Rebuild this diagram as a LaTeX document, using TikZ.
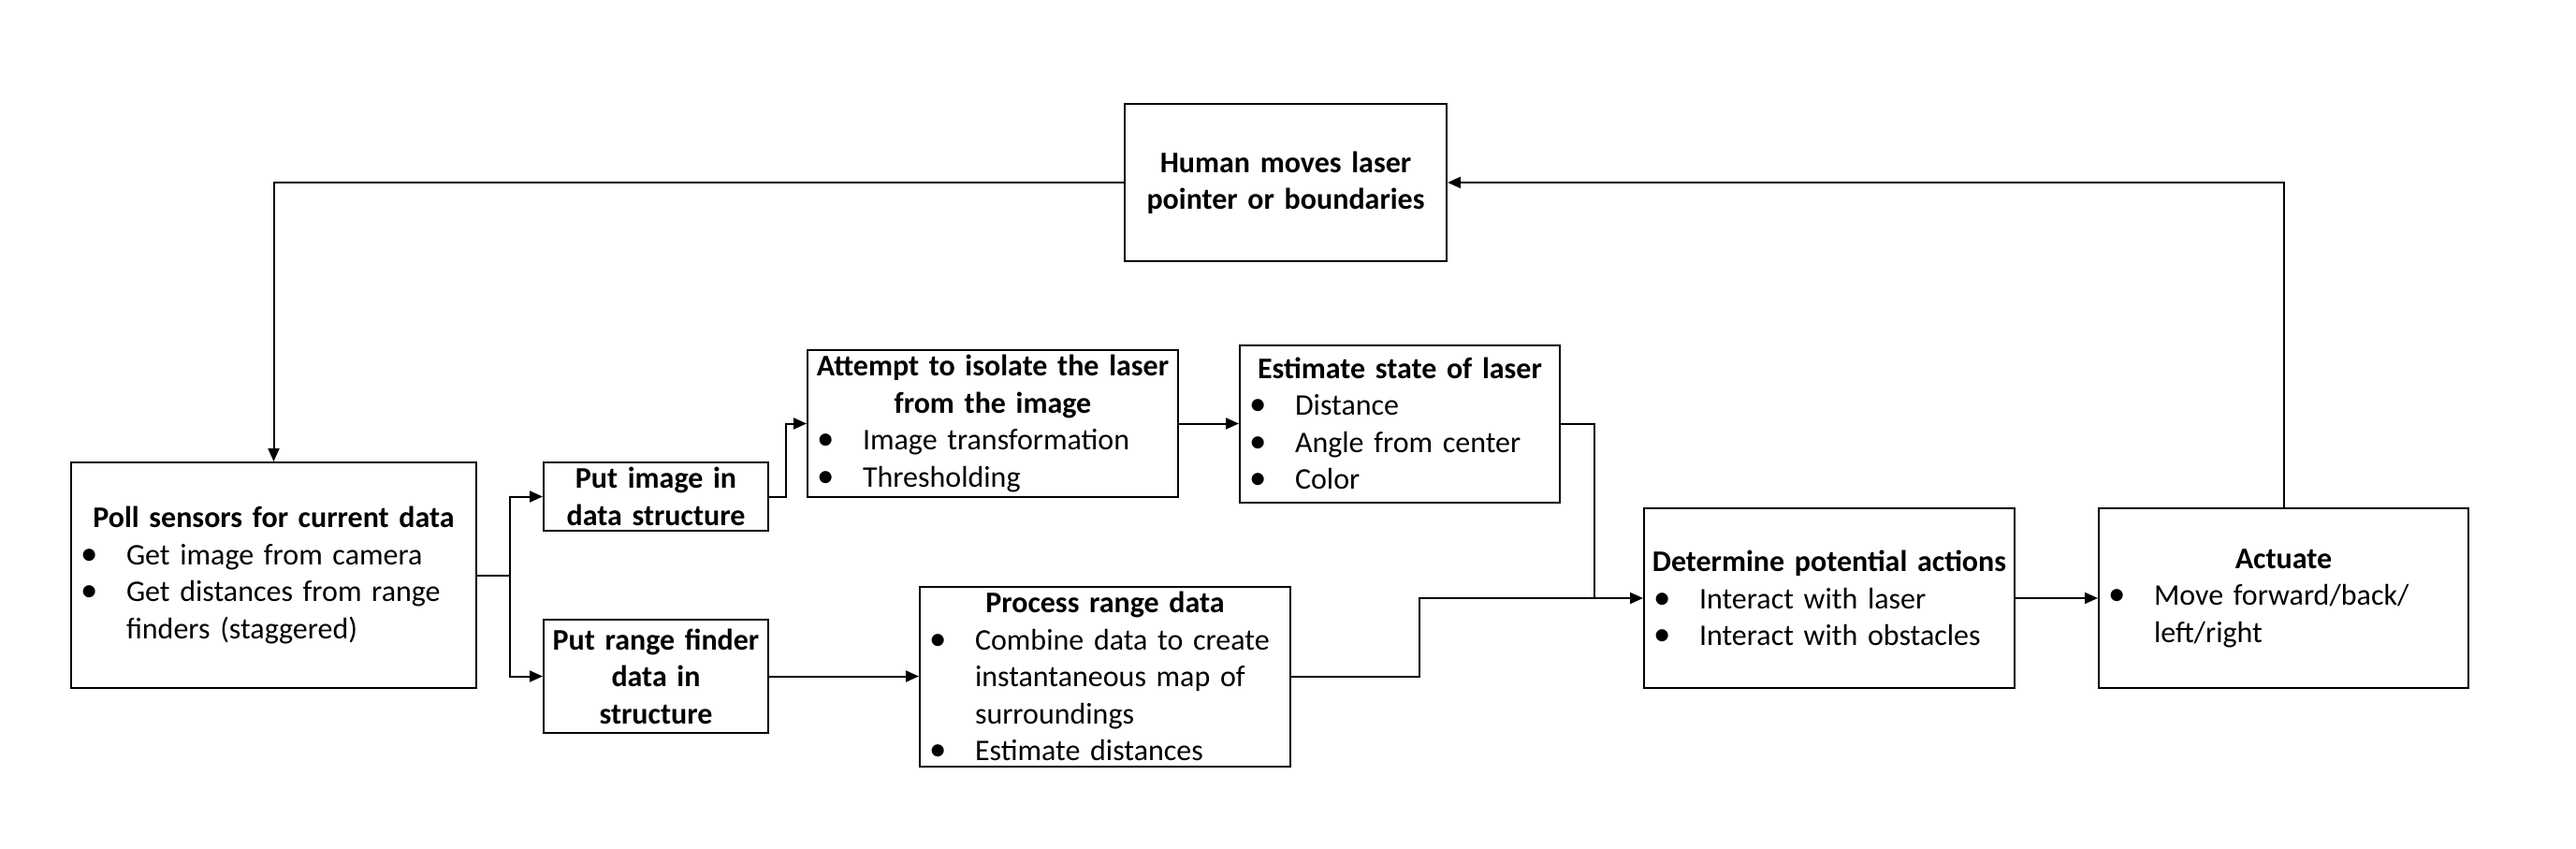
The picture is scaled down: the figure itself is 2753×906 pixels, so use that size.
\documentclass[tikz,border=0pt]{standalone}
\usepackage{fontspec}
\setmainfont{Carlito}
\usetikzlibrary{arrows.meta}
\newlength\bind \setlength\bind{29.5pt}
\newlength\bpad \setlength\bpad{5pt}
\newcommand\ttl[1]{\centerline{\bfseries #1}}
\newcommand\bitem[1]{\par\noindent\makebox[\bind][l]{\hspace*{\bpad}\scalebox{1.15}{\textbullet}}#1}
\newcommand\bcont[1]{\par\noindent\hspace*{\bind}#1}
\begin{document}
\begin{tikzpicture}[x=0.5pt,y=-0.5pt,
  box/.style={draw, line width=1pt, inner sep=0pt, align=left,
    font=\fontsize{16}{19.7}\selectfont},
  cbox/.style={box, align=center},
  arr/.style={line width=1pt, -{Triangle[length=7pt,width=6pt]}},
  ln/.style={line width=1pt}]
\useasboundingbox (0,0) rectangle (2753,906);

\node[cbox, minimum width=172pt, minimum height=84pt, text width=172pt] (human) at (1374,195)
  {\textbf{Human moves laser}\\\textbf{pointer or boundaries}};

\node[box, minimum width=216.5pt, minimum height=120.5pt, text width=216.5pt] (poll) at (292.5,614.5)
  {\ttl{Poll sensors for current data}
   \bitem{Get image from camera}
   \bitem{Get distances from range}
   \bcont{finders (staggered)}};

\node[cbox, minimum width=120pt, minimum height=36.5pt, text width=120pt] (pimg) at (701,530.5)
  {\textbf{Put image in}\\\textbf{data structure}};

\node[cbox, minimum width=120pt, minimum height=60.5pt, text width=120pt] (prange) at (701,722.5)
  {\textbf{Put range finder}\\\textbf{data in}\\\textbf{structure}};

\node[box, minimum width=198pt, minimum height=78.5pt, text width=198pt] (attempt) at (1061,452.5)
  {\ttl{Attempt to isolate the laser}
   \ttl{from the image}
   \bitem{Image transformation}
   \bitem{Thresholding}};

\node[box, minimum width=171pt, minimum height=84pt, text width=171pt] (estimate) at (1496,452.5)
  {\ttl{Estimate state of laser}
   \bitem{Distance}
   \bitem{Angle from center}
   \bitem{Color}};

\node[box, minimum width=198pt, minimum height=96pt, text width=198pt] (process) at (1181,722.5)
  {\ttl{Process range data}
   \bitem{Combine data to create}
   \bcont{instantaneous map of}
   \bcont{surroundings}
   \bitem{Estimate distances}};

\node[box, minimum width=198pt, minimum height=96pt, text width=198pt] (determine) at (1955,639)
  {\ttl{Determine potential actions}
   \bitem{Interact with laser}
   \bitem{Interact with obstacles}};

\node[box, minimum width=197.5pt, minimum height=96pt, text width=197.5pt] (actuate) at (2440.5,639)
  {\ttl{Actuate}
   \bitem{Move forward/back/}
   \bcont{left/right}};

% connectors
\draw[arr] (human.west) -| (poll.north);
\path (poll.east) ++(35,0) coordinate (split);
\draw[ln] (poll.east) -- (split);
\draw[arr] (split) |- (pimg.west);
\draw[arr] (split) |- (prange.west);
\draw[arr] (pimg.east) -- ++(18,0) |- (attempt.west);
\draw[arr] (prange.east) -- (process.west);
\draw[arr] (attempt.east) -- (estimate.west);
\draw[ln] (estimate.east) -- ++(36,0) coordinate (ej) -- (ej |- determine.west);
\draw[arr] (process.east) -- ++(137,0) |- (determine.west);
\draw[arr] (determine.east) -- (actuate.west);
\draw[arr] (actuate.north) |- (human.east);
\end{tikzpicture}
\end{document}
